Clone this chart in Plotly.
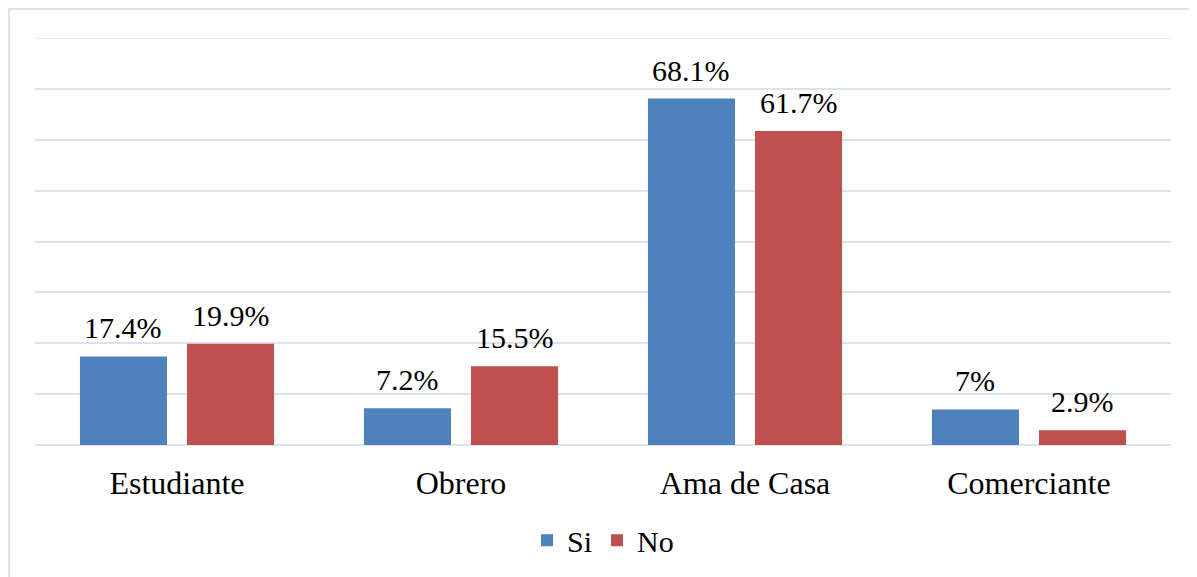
import plotly.graph_objects as go

categories = ["Estudiante", "Obrero", "Ama de Casa", "Comerciante"]
si_values = [17.4, 7.2, 68.1, 7.0]
no_values = [19.9, 15.5, 61.7, 2.9]
si_labels = ["17.4%", "7.2%", "68.1%", "7%"]
no_labels = ["19.9%", "15.5%", "61.7%", "2.9%"]
y_max = 80

FONT = "Liberation Serif, Times New Roman, serif"
GRID = "#d9e4f2"

fig = go.Figure()
fig.add_trace(go.Bar(
    name="Si", x=categories, y=si_values,
    marker=dict(color="#4f81bd", line=dict(width=0)),
))
fig.add_trace(go.Bar(
    name="No", x=categories, y=no_values,
    marker=dict(color="#c0504d", line=dict(width=0)),
))

W, H = 1197, 577
ml, mr, mt, mb = 27, 34, 30, 140
pw = W - ml - mr
ph = H - mt - mb
bargap, bargroupgap = 0.246, 0.187
cat_px = pw / len(categories)
offset_px = cat_px * (1 - bargap) / 4

for vals, labels, sgn in ((si_values, si_labels, -1), (no_values, no_labels, 1)):
    for c, v, t in zip(categories, vals, labels):
        fig.add_annotation(x=c, y=v, text=t, showarrow=False, xref="x", yref="y",
                           xanchor="center", yanchor="bottom",
                           xshift=sgn * offset_px, yshift=10,
                           font=dict(family=FONT, size=30, color="#000000"))

fig.update_layout(
    width=W, height=H,
    margin=dict(l=ml, r=mr, t=mt, b=mb, autoexpand=False),
    paper_bgcolor="white", plot_bgcolor="white",
    barmode="group", bargap=bargap, bargroupgap=bargroupgap,
    font=dict(family=FONT, size=30, color="#000000"),
    showlegend=True,
    legend=dict(orientation="h", x=0.5, xanchor="center", y=-0.17, yanchor="top",
                font=dict(family=FONT, size=30, color="#000000"), itemwidth=30,
                traceorder="normal"),
    xaxis=dict(showgrid=False, showline=False, ticks="", automargin=False,
               tickfont=dict(family=FONT, size=32, color="#000000"), ticklabelstandoff=16),
    yaxis=dict(range=[0, y_max], dtick=10,
               showticklabels=False, showgrid=True,
               automargin=False,
               gridcolor=GRID, gridwidth=1.5, zeroline=True,
               zerolinecolor=GRID, zerolinewidth=1.5, showline=False),
)

# top gridline at the range end (plotly skips it)
fig.add_shape(type="line", xref="paper", yref="y", x0=0, x1=1, y0=y_max, y1=y_max,
              line=dict(color=GRID, width=1.5), layer="below")

fig.add_shape(type="rect", xref="paper", yref="paper",
              x0=(1 - ml) / pw, x1=(W + 20 - ml) / pw,
              y0=(H - mb - (H + 20)) / ph, y1=(H - mb - 1) / ph,
              line=dict(color="#d6e3f3", width=2), fillcolor="rgba(0,0,0,0)",
              layer="below")

fig.write_html("out.html")
